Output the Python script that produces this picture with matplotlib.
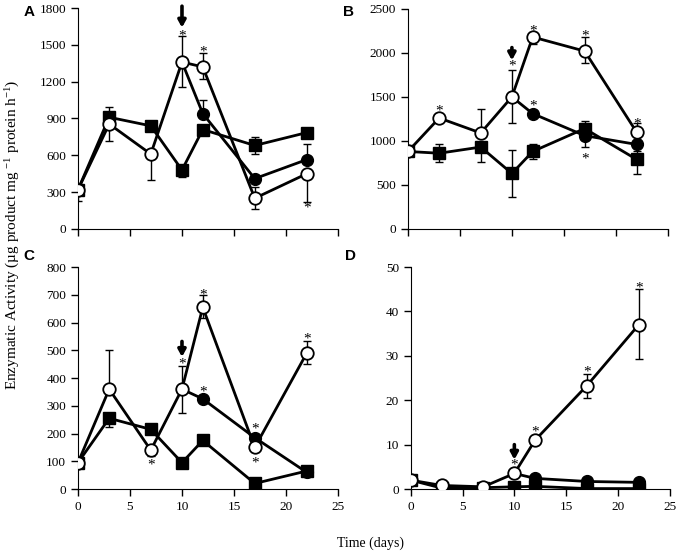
import numpy as np
from matplotlib import pyplot as plt

plt.rcParams['font.family'] = ['Liberation Serif', 'DejaVu Serif']
plt.rcParams['mathtext.default'] = 'regular'

# laiko taskai (dienos)
days = [0, 3, 7, 10, 12, 17, 22]
days_after = [10, 12, 17, 22]

# A panele
a_sq = [320, 910, 840, 480, 810, 680, 785]
a_sq_lo = [0, 0, 0, 60, 0, 70, 0]
a_sq_hi = [0, 80, 0, 0, 0, 70, 0]
a_op = [320, 855, 610, 1360, 1320, 250, 450]
a_op_lo = [90, 135, 210, 200, 100, 90, 230]
a_op_hi = [0, 0, 0, 210, 110, 90, 0]
a_fc = [1360, 940, 410, 565]
a_fc_lo = [0, 0, 0, 0]
a_fc_hi = [0, 110, 0, 125]
a_star_x = [10, 12, 22]
a_star_y = [1570, 1440, 170]

# B panele
b_sq = [880, 860, 930, 630, 880, 1140, 790]
b_sq_lo = [0, 100, 170, 270, 80, 0, 170]
b_sq_hi = [0, 100, 0, 270, 80, 90, 90]
b_op = [880, 1260, 1090, 1500, 2180, 2020, 1100]
b_op_lo = [0, 0, 0, 300, 80, 140, 0]
b_op_hi = [0, 0, 270, 310, 0, 160, 100]
b_fc = [1500, 1310, 1060, 960]
b_fc_lo = [0, 0, 130, 0]
b_fc_hi = [0, 0, 0, 0]
b_star_x = [3, 10, 12, 17, 22, 12, 17]
b_star_y = [1340, 1850, 2250, 2190, 1190, 1400, 790]

# C panele
c_sq = [95, 255, 215, 95, 175, 20, 65]
c_sq_lo = [0, 30, 0, 0, 0, 0, 0]
c_sq_hi = [0, 0, 0, 0, 0, 0, 0]
c_op = [95, 360, 140, 360, 655, 150, 490]
c_op_lo = [0, 0, 20, 85, 40, 0, 40]
c_op_hi = [0, 140, 0, 85, 45, 0, 45]
c_fc = [360, 325, 185, 60]
c_fc_lo = [0, 0, 0, 0]
c_fc_hi = [0, 0, 0, 0]
c_star_x = [7, 10, 12, 12, 17, 17, 22]
c_star_y = [85, 450, 700, 350, 215, 95, 540]

# D panele
d_sq = [2, 0.2, 0.3, 0.5, 0.6, 0.1, 0.1]
d_sq_lo = [0, 0, 0, 0, 0, 0, 0]
d_sq_hi = [0, 0, 0, 0, 0, 0, 0]
d_op = [2, 0.8, 0.5, 3.5, 11, 23.3, 37]
d_op_lo = [0, 0, 0, 0, 0, 2.8, 7.8]
d_op_hi = [0, 0, 0, 0, 0, 2.7, 8]
d_fc = [3.5, 2.4, 1.7, 1.5]
d_fc_lo = [0, 0, 0, 0]
d_fc_hi = [0, 0, 0, 0]
d_star_x = [10, 12, 17, 22]
d_star_y = [5.5, 12.8, 26.3, 45.2]

panels = [
    ("A", [0.1147, 0.586, 0.3823, 0.3995], 1800, 300, a_sq, a_sq_lo, a_sq_hi, a_op, a_op_lo, a_op_hi,
     a_fc, a_fc_lo, a_fc_hi, a_star_x, a_star_y, (1815, 1640), False, (-0.21, 0.98)),
    ("B", [0.600, 0.586, 0.382, 0.398], 2500, 500, b_sq, b_sq_lo, b_sq_hi, b_op, b_op_lo, b_op_hi,
     b_fc, b_fc_lo, b_fc_hi, b_star_x, b_star_y, (2060, 1915), False, (-0.25, 0.985)),
    ("C", [0.1147, 0.1157, 0.3823, 0.4013], 800, 100, c_sq, c_sq_lo, c_sq_hi, c_op, c_op_lo, c_op_hi,
     c_fc, c_fc_lo, c_fc_hi, c_star_x, c_star_y, (532, 476), True, (-0.21, 1.05)),
    ("D", [0.604, 0.1157, 0.381, 0.4013], 50, 10, d_sq, d_sq_lo, d_sq_hi, d_op, d_op_lo, d_op_hi,
     d_fc, d_fc_lo, d_fc_hi, d_star_x, d_star_y, (10.0, 6.6), True, (-0.255, 1.05)),
]

fig = plt.figure(figsize=(6.8, 5.53), dpi=100)

for (lab, pos, ymax, ystep, sq, sq_lo, sq_hi, op, op_lo, op_hi,
     fc, fc_lo, fc_hi, sx, sy, arr, xlabels, labpos) in panels:
    ax = fig.add_axes(pos)
    eb = dict(ecolor="black", elinewidth=1.0, capsize=3, capthick=1.0, zorder=1)
    ax.errorbar(days, sq, yerr=[sq_lo, sq_hi], fmt="none", **eb)
    ax.errorbar(days, op, yerr=[op_lo, op_hi], fmt="none", **eb)
    ax.errorbar(days_after, fc, yerr=[fc_lo, fc_hi], fmt="none", **eb)
    ax.plot(days, sq, color="black", lw=2, marker="s", ms=8.5, mfc="black", mec="black", zorder=3)
    ax.plot(days_after, fc, color="black", lw=2, marker="o", ms=8.5, mfc="black", mec="black", zorder=4)
    ax.plot(days, op, color="black", lw=2, marker="o", ms=9, mfc="white", mec="black", mew=1.3, zorder=5)
    for x, y in zip(sx, sy):
        ax.text(x, y, "*", ha="center", va="center", fontsize=11, zorder=6)
    ax.annotate("", xy=(10, arr[1]), xytext=(10, arr[0]),
                arrowprops=dict(arrowstyle="-|>,head_width=0.22,head_length=0.4",
                                color="black", lw=2.6, shrinkA=0, shrinkB=0),
                annotation_clip=False)
    ax.set_xlim(0, 25)
    ax.set_ylim(0, ymax)
    ax.set_xticks(np.arange(0, 26, 5))
    ax.set_yticks(np.arange(0, ymax + 1, ystep))
    if not xlabels:
        ax.set_xticklabels([])
    ax.spines["top"].set_visible(False)
    ax.spines["right"].set_visible(False)
    ax.tick_params(direction="out", length=5, width=1, labelsize=9.5)
    ax.text(labpos[0], labpos[1], lab, transform=ax.transAxes, fontsize=11,
            fontweight="bold", family="Liberation Sans", ha="left", va="center")

fig.text(0.019, 0.575, "Enzymatic Activity (µg product mg $^{-1}$ protein h$^{-1}$)",
         rotation=90, ha="center", va="center", fontsize=11)
fig.text(0.545, 0.018, "Time (days)", ha="center", va="center", fontsize=10)

plt.savefig("out.png", dpi=100)
